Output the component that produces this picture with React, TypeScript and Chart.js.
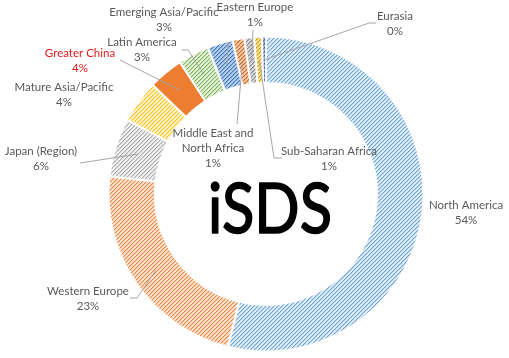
import { useEffect, useRef } from "react";
import { Chart, registerables } from "chart.js";

Chart.register(...registerables);

// ---------------- data ----------------
const REGIONS = [
  "North America",
  "Western Europe",
  "Japan (Region)",
  "Mature Asia/Pacific",
  "Greater China",
  "Latin America",
  "Emerging Asia/Pacific",
  "Middle East and North Africa",
  "Eastern Europe",
  "Sub-Saharan Africa",
  "Eurasia",
];
const SHARES = [53.9, 22.9, 6.0, 4.4, 3.6, 3.2, 2.6, 1.2, 1.0, 0.8, 0.4];
const CENTER_TITLE = "iSDS";
const HIGHLIGHTED = "Greater China";

// ---------------- styles / layout ----------------
const STRIPE_FG = ["#5B9BD5", "#ED7D31", "#A5A5A5", "#FFC000", null, "#70AD47", "#3A6DB5", "#C55A11", "#7F7F7F", "#BF9000", "#2F5597"];
const STRIPE_BG = ["#E3EEF9", "#FBE3D3", "#F0F0F0", "#FFF4D2", null, "#E6F2DE", "#B4CFEE", "#F8CBAD", "#D9D9D9", "#FFE699", "#8FAADC"];
const SOLID = "#ED7D31";

// label layout: text centre x, first-line y, line breaks, leader elbow points (px)
const LABEL_LAYOUT: { x: number; y: number; lines: string[]; leader: [number, number][] }[] = [
  { x: 466, y: 205, lines: ["North America"], leader: [] },
  { x: 88, y: 291, lines: ["Western Europe"], leader: [[130, 298], [137, 298]] },
  { x: 41, y: 151, lines: ["Japan (Region)"], leader: [[80, 163]] },
  { x: 64, y: 87, lines: ["Mature Asia/Pacific"], leader: [] },
  { x: 80, y: 53, lines: ["Greater China"], leader: [[120, 60]] },
  { x: 142, y: 42, lines: ["Latin America"], leader: [[182, 50], [188, 50]] },
  { x: 164, y: 12, lines: ["Emerging Asia/Pacific"], leader: [[228, 42]] },
  { x: 213, y: 133, lines: ["Middle East and", "North Africa"], leader: [[237, 124]] },
  { x: 255, y: 7, lines: ["Eastern Europe"], leader: [[253, 30]] },
  { x: 329, y: 151, lines: ["Sub-Saharan Africa"], leader: [[282, 158], [274, 158]] },
  { x: 395, y: 16, lines: ["Eurasia"], leader: [[376, 23], [369, 23]] },
];

const LABEL_FONT = "11.5px Lato, 'Open Sans', sans-serif";
const LINE_H = 15;
const TITLE_FONT = "70px Lato, 'Open Sans', sans-serif";
const TITLE_WIDTH = 124;

function makeStripe(fg: string, bg: string): CanvasPattern | string {
  const c = document.createElement("canvas");
  c.width = 4;
  c.height = 4;
  const g = c.getContext("2d");
  if (!g) return fg;
  g.fillStyle = bg;
  g.fillRect(0, 0, 4, 4);
  g.fillStyle = fg;
  for (let y = 0; y < 4; y++) {
    g.globalAlpha = 0.9;
    g.fillRect(3 - y, y, 1, 1);
    g.globalAlpha = 0.35;
    g.fillRect((4 - y) % 4, y, 1, 1);
    g.globalAlpha = 1;
  }
  const p = g.createPattern(c, "repeat");
  return p || fg;
}

const labelPlugin = {
  id: "outerLabels",
  afterDraw(chart: any) {
    const ctx: CanvasRenderingContext2D = chart.ctx;
    const meta = chart.getDatasetMeta(0);
    const data: number[] = chart.data.datasets[0].data;
    const total = data.reduce((a: number, b: number) => a + b, 0);
    ctx.save();
    meta.data.forEach((arc: any, i: number) => {
      const lay = LABEL_LAYOUT[i];
      const mid = (arc.startAngle + arc.endAngle) / 2;
      const r = (arc.innerRadius + arc.outerRadius) / 2;
      const ax = arc.x + Math.cos(mid) * r;
      const ay = arc.y + Math.sin(mid) * r;
      if (lay.leader.length) {
        ctx.strokeStyle = "#A6A6A6";
        ctx.lineWidth = 1;
        ctx.beginPath();
        ctx.moveTo(lay.leader[0][0], lay.leader[0][1]);
        for (let k = 1; k < lay.leader.length; k++) ctx.lineTo(lay.leader[k][0], lay.leader[k][1]);
        ctx.lineTo(ax, ay);
        ctx.stroke();
      }
      const pct = Math.round((data[i] / total) * 100) + "%";
      const lines = [...lay.lines, pct];
      ctx.font = LABEL_FONT;
      ctx.textAlign = "center";
      ctx.textBaseline = "middle";
      ctx.fillStyle = REGIONS[i] === HIGHLIGHTED ? "#E21B1B" : "#595959";
      lines.forEach((t, k) => ctx.fillText(t, lay.x, lay.y + k * LINE_H));
    });
    // centre title
    const a0 = meta.data[0];
    ctx.font = TITLE_FONT;
    ctx.fillStyle = "#000000";
    ctx.strokeStyle = "#000000";
    ctx.lineWidth = 1.6;
    ctx.lineJoin = "round";
    ctx.textAlign = "center";
    ctx.textBaseline = "alphabetic";
    const w = ctx.measureText(CENTER_TITLE).width;
    const sx = w > 0 ? TITLE_WIDTH / w : 1;
    ctx.translate(a0.x + 4, a0.y + 39);
    ctx.scale(sx, 1);
    ctx.fillText(CENTER_TITLE, 0, 0);
    ctx.strokeText(CENTER_TITLE, 0, 0);
    ctx.restore();
  },
};

export default function App() {
  const ref = useRef<HTMLCanvasElement | null>(null);
  useEffect(() => {
    document.body.style.margin = "0";
    const canvas = ref.current;
    if (!canvas) return;
    const bg = SHARES.map((_, i) =>
      STRIPE_FG[i] ? makeStripe(STRIPE_FG[i] as string, STRIPE_BG[i] as string) : SOLID
    );
    const chart = new Chart(canvas, {
      type: "doughnut",
      data: {
        labels: REGIONS,
        datasets: [
          {
            data: SHARES,
            backgroundColor: bg as any,
            borderColor: "#FFFFFF",
            borderWidth: 2,
          },
        ],
      },
      options: {
        animation: false,
        responsive: false,
        events: [],
        cutout: "70.5%",
        layout: { padding: { left: 107.5, top: 35.5, right: 84.5, bottom: 5.5 } },
        plugins: { legend: { display: false }, tooltip: { enabled: false } },
      },
      plugins: [labelPlugin],
    });
    return () => chart.destroy();
  }, []);
  return (
    <div style={{ position: "absolute", left: 0, top: 0, width: 509, height: 358, background: "#fff" }}>
      <canvas ref={ref} width={509} height={358} style={{ width: 509, height: 358, display: "block" }} />
    </div>
  );
}
